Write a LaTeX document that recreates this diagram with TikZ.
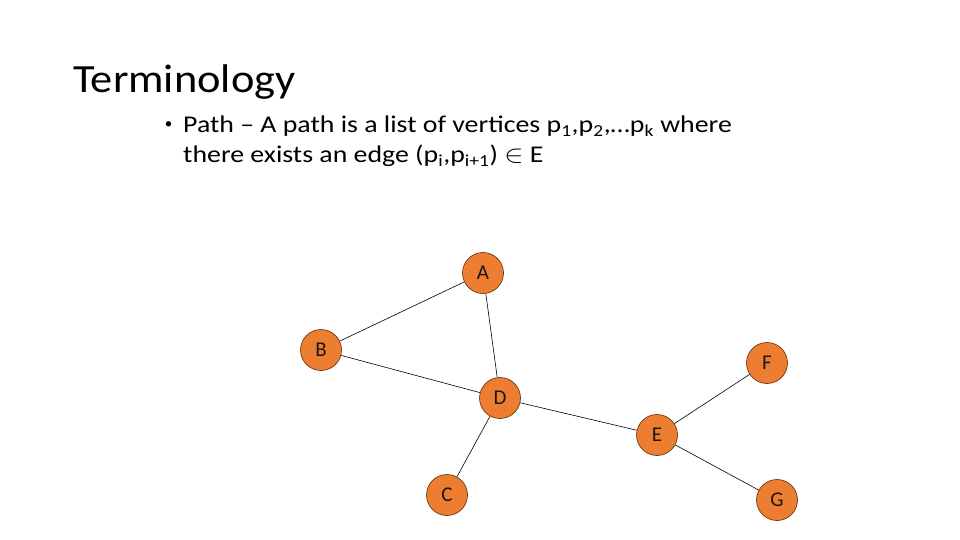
\documentclass[tikz,border=0pt]{standalone}
\usepackage{fontspec}
\setmainfont{Carlito}
\definecolor{vorange}{HTML}{ED7D31}
\definecolor{vborder}{HTML}{5A2A0E}
\newcommand{\sbs}[1]{\textsubscript{#1}}
\newcommand{\wide}[2]{\scalebox{#1}[1]{#2}}
\begin{document}
\begin{tikzpicture}[x=1pt,y=-1pt,
  vtx/.style={circle,draw=vborder,line width=0.6pt,fill=vorange,minimum size=41pt,inner sep=0pt,font=\fontsize{21}{22}\selectfont,text=black!90},
  bodytext/.style={anchor=base west,inner sep=0pt,font=\fontsize{24}{28}\selectfont},
  edge/.style={draw=black,line width=0.6pt}]
\useasboundingbox (0,0) rectangle (960,540);
\node[anchor=base west,inner sep=0pt,font=\fontsize{40}{44}\selectfont] (title) at (73,93) {\wide{1.11}{Terminology}};
\node[inner sep=0pt,font=\fontsize{15}{16}\selectfont] (b) at (168.5,125.5) {•};
\node[bodytext] (l1) at (183,133) {\wide{1.16}{Path – A path is a list of vertices p\sbs{1},p\sbs{2},…p\sbs{k} where}};
\node[bodytext] (l2) at (183,163) {\wide{1.16}{there exists an edge (p\sbs{i},p\sbs{i+1}) $\in$ E}};
\node[vtx] (A) at (483,273) {A};
\node[vtx] (B) at (321,350) {B};
\node[vtx] (F) at (767,363) {F};
\node[vtx] (D) at (500,398) {D};
\node[vtx] (E) at (657,435) {E};
\node[vtx] (C) at (447,495) {C};
\node[vtx] (G) at (777,500) {G};
\draw[edge] (A) -- (B);
\draw[edge] (A) -- (D);
\draw[edge] (B) -- (D);
\draw[edge] (D) -- (E);
\draw[edge] (D) -- (C);
\draw[edge] (E) -- (F);
\draw[edge] (E) -- (G);
\end{tikzpicture}
\end{document}
